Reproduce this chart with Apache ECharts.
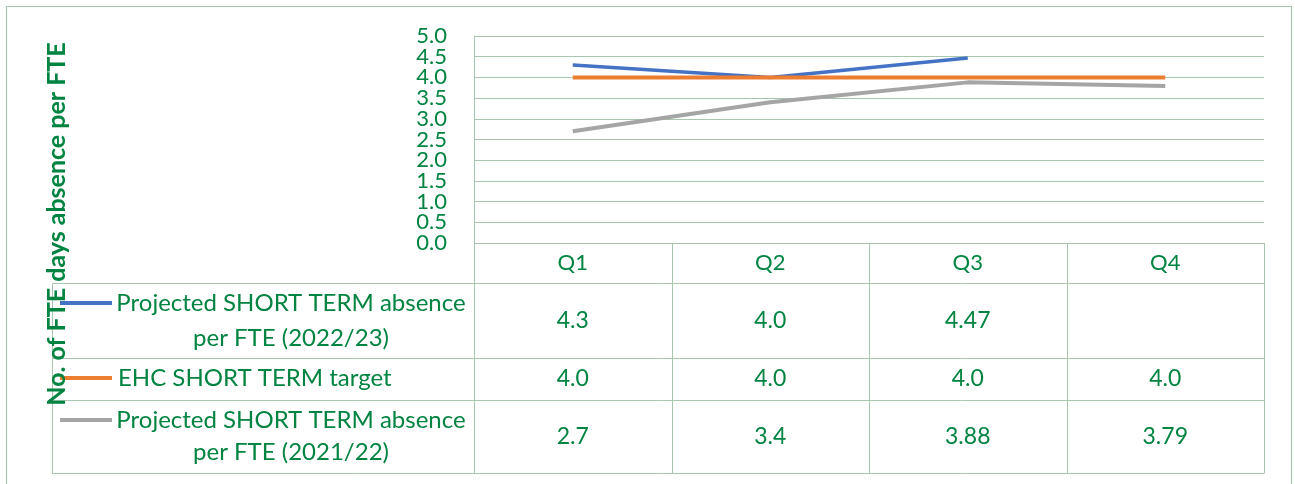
<!DOCTYPE html>
<html>
<head>
<meta charset="utf-8">
<script src="https://cdn.jsdelivr.net/npm/echarts@6/dist/echarts.min.js"></script>
<style>html,body{margin:0;padding:0;background:#fff;}#c{width:1295px;height:484px;}</style>
</head>
<body>
<div id="c"></div>
<script>
const quarters = ['Q1', 'Q2', 'Q3', 'Q4'];
const proj2223 = [4.3, 4.0, 4.47, null];
const target = [4.0, 4.0, 4.0, 4.0];
const proj2122 = [2.7, 3.4, 3.88, 3.79];
const yTicks = [0, 0.5, 1, 1.5, 2, 2.5, 3, 3.5, 4, 4.5, 5];
const seriesNames = [
  ['Projected SHORT TERM absence', 'per FTE (2022/23)'],
  ['EHC SHORT TERM target'],
  ['Projected SHORT TERM absence', 'per FTE (2021/22)']
];
const yTitle = 'No. of FTE days absence per FTE';

const GREEN = '#00843F';
const GRID = '#A9C6AE';
const FONT = 'Lato, "Open Sans", sans-serif';
const colors = ['#4472C4', '#ED7D31', '#A5A5A5'];

const chart = echarts.init(document.getElementById('c'), null, {renderer: 'canvas'});
const gridL = 474, gridT = 36, gridW = 790, gridH = 207;

chart.setOption({
  animation: false,
  grid: {left: gridL, top: gridT, width: gridW, height: gridH},
  xAxis: {
    type: 'category', data: quarters, boundaryGap: true,
    axisLine: {show: false}, axisTick: {show: false},
    axisLabel: {color: GREEN, fontSize: 22, fontFamily: FONT, margin: 20, verticalAlign: 'middle'}
  },
  yAxis: {
    type: 'value', min: yTicks[0], max: yTicks[yTicks.length - 1], interval: yTicks[1] - yTicks[0],
    axisLine: {show: true, lineStyle: {color: GRID, width: 1}},
    axisTick: {show: false},
    splitLine: {lineStyle: {color: GRID, width: 1}},
    axisLabel: {show: false}
  },
  series: [
    {type: 'line', data: proj2223, symbol: 'none', lineStyle: {color: colors[0], width: 3.5}, itemStyle: {color: colors[0]}},
    {type: 'line', data: target, symbol: 'none', lineStyle: {color: colors[1], width: 4}, itemStyle: {color: colors[1]}},
    {type: 'line', data: proj2122, symbol: 'none', lineStyle: {color: colors[2], width: 4}, itemStyle: {color: colors[2]}}
  ]
});

const g = [];
// y tick labels placed through the y axis scale
yTicks.forEach(t => {
  const y = chart.convertToPixel({yAxisIndex: 0}, t);
  g.push({type: 'text', x: gridL - 27, y: y, style: {text: t.toFixed(1), fill: GREEN, font: '22px ' + FONT, align: 'right', verticalAlign: 'middle'}, silent: true});
});

// data table built from the arrays, positioned with the x axis scale
const fmt = v => (v === null || v === undefined) ? '' : (Number.isInteger(v) ? v.toFixed(1) : String(v));
const rows = [proj2223, target, proj2122];
const headTop = gridT + gridH;
const rowEdges = [283, 358, 400, 473];
const tableL = 52;
const xs = quarters.map(q => chart.convertToPixel({xAxisIndex: 0}, q));
const half = gridW / quarters.length / 2;
const colEdges = [gridL].concat(xs.map(x => x + half));
const line = (x1, y1, x2, y2, color, w) => g.push({type: 'line', shape: {x1, y1, x2, y2}, style: {stroke: color || GRID, lineWidth: w || 1}, silent: true});
// outer border
g.push({type: 'rect', shape: {x: 6.5, y: 6.5, width: 1285, height: 520}, style: {fill: null, stroke: GRID, lineWidth: 1.2}, silent: true});
// verticals
colEdges.forEach(x => line(Math.round(x) + 0.5, headTop, Math.round(x) + 0.5, rowEdges[3]));
line(tableL + 0.5, rowEdges[0], tableL + 0.5, rowEdges[3]);
// horizontals
rowEdges.forEach(y => line(tableL, y + 0.5, colEdges[colEdges.length - 1] + 0.5, y + 0.5));
// cells
rows.forEach((r, i) => {
  const cy = (rowEdges[i] + rowEdges[i + 1]) / 2;
  r.forEach((v, j) => {
    g.push({type: 'text', x: xs[j], y: cy, style: {text: fmt(v), fill: GREEN, font: '23px ' + FONT, align: 'center', verticalAlign: 'middle'}, silent: true});
  });
});
// legend entries
const legendY = [[303, 338], [378], [420, 452]];
seriesNames.forEach((lines, i) => {
  line(60, legendY[i][0], 112, legendY[i][0], colors[i], 4);
  lines.forEach((t, k) => {
    const single = lines.length === 1;
    g.push({type: 'text', x: single ? 118 : 291, y: legendY[i][k],
      style: {text: t, fill: GREEN, font: '24px ' + FONT, align: single ? 'left' : 'center', verticalAlign: 'middle'}, silent: true});
  });
});
// axis title
g.push({type: 'text', x: 57, y: 224, rotation: Math.PI / 2, z: 100,
  style: {text: yTitle, fill: GREEN, font: 'bold 25px ' + FONT, align: 'center', verticalAlign: 'middle'}, silent: true});
chart.setOption({graphic: g});
</script>
</body>
</html>
